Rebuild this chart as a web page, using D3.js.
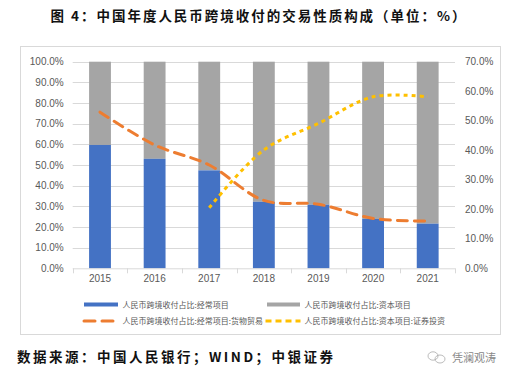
<!DOCTYPE html>
<html><head><meta charset="utf-8">
<script src="https://cdn.jsdelivr.net/npm/d3@7"></script>
<style>body{margin:0;background:#fff}svg{display:block}</style>
</head><body><svg id="c" width="516" height="379"></svg>
<script>
const years = ["2015","2016","2017","2018","2019","2020","2021"];
const currentShare = [59.7, 53.0, 47.4, 32.2, 30.8, 23.9, 21.6];   // 经常项目 (%)
const goodsTrade = [52.9, 41.8, 35.0, 23.0, 21.7, 16.9, 16.0];     // 经常项目:货物贸易 (右轴)
const securities = [null, null, 20.5, 40.1, 49.1, 58.1, 58.1];     // 资本项目:证券投资 (右轴)
const leftTicks = [0,10,20,30,40,50,60,70,80,90,100];
const rightTicks = [0,10,20,30,40,50,60,70];
const names = ["人民币跨境收付占比:经常项目","人民币跨境收付占比:资本项目","人民币跨境收付占比:经常项目:货物贸易","人民币跨境收付占比:资本项目:证券投资"];

const svg = d3.select("#c");
const M = {l:72.7, r:455, t:61.7, b:268.3};
const cj = "'Noto Sans CJK SC', sans-serif";
const num = "'Liberation Sans', Arial, sans-serif";

svg.append("text").attr("x",258).attr("y",21).attr("text-anchor","middle")
  .attr("font-family",cj).attr("font-weight","bold").attr("font-size",13.5).attr("fill","#111")
  .attr("textLength",415).attr("lengthAdjust","spacing")
  .text("图 4：中国年度人民币跨境收付的交易性质构成（单位：%）");

svg.append("rect").attr("x",20.5).attr("y",46.5).attr("width",480).attr("height",288)
  .attr("fill","none").attr("stroke","#D9D9D9");

const x = d3.scaleBand().domain(years).range([M.l,M.r]).paddingInner(0.6).paddingOuter(0.3);
const yL = d3.scaleLinear().domain([0,100]).range([M.b,M.t]);
const yR = d3.scaleLinear().domain([0,70]).range([M.b,M.t]);

// grid
svg.append("g").selectAll("line").data(leftTicks.slice(1)).join("line")
  .attr("x1",M.l).attr("x2",M.r).attr("y1",d=>Math.round(yL(d))+0.5).attr("y2",d=>Math.round(yL(d))+0.5)
  .attr("stroke","#D9D9D9").attr("stroke-width",1);

// bars
const g = svg.append("g");
g.selectAll(".cap").data(years).join("rect")
  .attr("x",d=>x(d)).attr("width",x.bandwidth())
  .attr("y",yL(100)).attr("height",(d,i)=>yL(currentShare[i])-yL(100)).attr("fill","#A5A5A5");
g.selectAll(".cur").data(years).join("rect")
  .attr("x",d=>x(d)).attr("width",x.bandwidth())
  .attr("y",(d,i)=>yL(currentShare[i])).attr("height",(d,i)=>yL(0)-yL(currentShare[i])).attr("fill","#4472C4");

// x axis
const xa = svg.append("g").attr("transform",`translate(0,${M.b})`)
  .call(d3.axisBottom(x).tickSize(0).tickPadding(7));
xa.select(".domain").attr("stroke","#D9D9D9").attr("d",`M${M.l},0.5H${M.r}`);
xa.selectAll("text").attr("font-family",num).attr("font-size",10).attr("fill","#595959");
const step = x.step();
xa.selectAll(".sep").data(d3.range(8)).join("line")
  .attr("x1",i=>Math.round(M.l+i*step)+0.5).attr("x2",i=>Math.round(M.l+i*step)+0.5)
  .attr("y1",0).attr("y2",5).attr("stroke","#D9D9D9");

// left axis
const la = svg.append("g").attr("transform",`translate(${M.l},0)`)
  .call(d3.axisLeft(yL).tickValues(leftTicks).tickSize(0).tickPadding(9).tickFormat(d=>d.toFixed(1)+"%"));
la.select(".domain").remove();
la.selectAll("text").attr("font-family",num).attr("font-size",10).attr("fill","#595959");
// right axis
const ra = svg.append("g").attr("transform",`translate(${M.r},0)`)
  .call(d3.axisRight(yR).tickValues(rightTicks).tickSize(0).tickPadding(10).tickFormat(d=>d.toFixed(1)+"%"));
ra.select(".domain").remove();
ra.selectAll("text").attr("font-family",num).attr("font-size",10).attr("fill","#595959");

// lines
const cx = d=>x(d)+x.bandwidth()/2;
const line = d3.line().defined(d=>d[1]!=null).x(d=>cx(d[0])).y(d=>yR(d[1])).curve(d3.curveCatmullRom.alpha(0.5));
svg.append("path").datum(years.map((y,i)=>[y,goodsTrade[i]]))
  .attr("d",line).attr("fill","none").attr("stroke","#ED7D31").attr("stroke-width",3)
  .attr("stroke-dasharray","10,7").attr("stroke-linecap","round");
svg.append("path").datum(years.map((y,i)=>[y,securities[i]]).filter(d=>d[1]!=null))
  .attr("d",line).attr("fill","none").attr("stroke","#FFC000").attr("stroke-width",3)
  .attr("stroke-dasharray","4,4").attr("stroke-linecap","butt");

// legend
const lg = svg.append("g");
const items = [
  {x:84, y:304.5, c:"#4472C4", dash:null, w:34, tx:122.5},
  {x:267, y:304.5, c:"#A5A5A5", dash:null, w:33, tx:304.5},
  {x:84, y:321, c:"#ED7D31", dash:"11,7", w:29, tx:122.5},
  {x:265.5, y:321, c:"#FFC000", dash:"6,4", w:35, tx:304.5}
];
items.forEach((it,i)=>{
  lg.append("line").attr("x1",it.x).attr("x2",it.x+it.w).attr("y1",it.y).attr("y2",it.y)
    .attr("stroke",it.c).attr("stroke-width",it.dash?3:4)
    .attr("stroke-dasharray",it.dash).attr("stroke-linecap",i==2?"round":"butt");
  lg.append("text").attr("x",it.tx).attr("y",it.y+3).attr("font-family",cj).attr("font-size",8)
    .attr("fill","#595959").text(names[i]);
});

// source
svg.append("text").attr("x",17).attr("y",362).attr("font-family",cj).attr("font-weight","bold")
  .attr("font-size",13.5).attr("fill","#111").attr("textLength",316).attr("lengthAdjust","spacing")
  .text("数据来源：中国人民银行；WIND；中银证券");
// watermark
const wm = svg.append("g").attr("fill","none").attr("stroke","#aaa").attr("stroke-width",0.8);
wm.append("ellipse").attr("cx",433).attr("cy",356).attr("rx",5).attr("ry",4.2);
wm.append("ellipse").attr("cx",440).attr("cy",359).attr("rx",5).attr("ry",4);
svg.append("text").attr("x",452).attr("y",362).attr("font-family",cj).attr("font-size",11)
  .attr("fill","#888").text("凭澜观涛");
</script></body></html>
